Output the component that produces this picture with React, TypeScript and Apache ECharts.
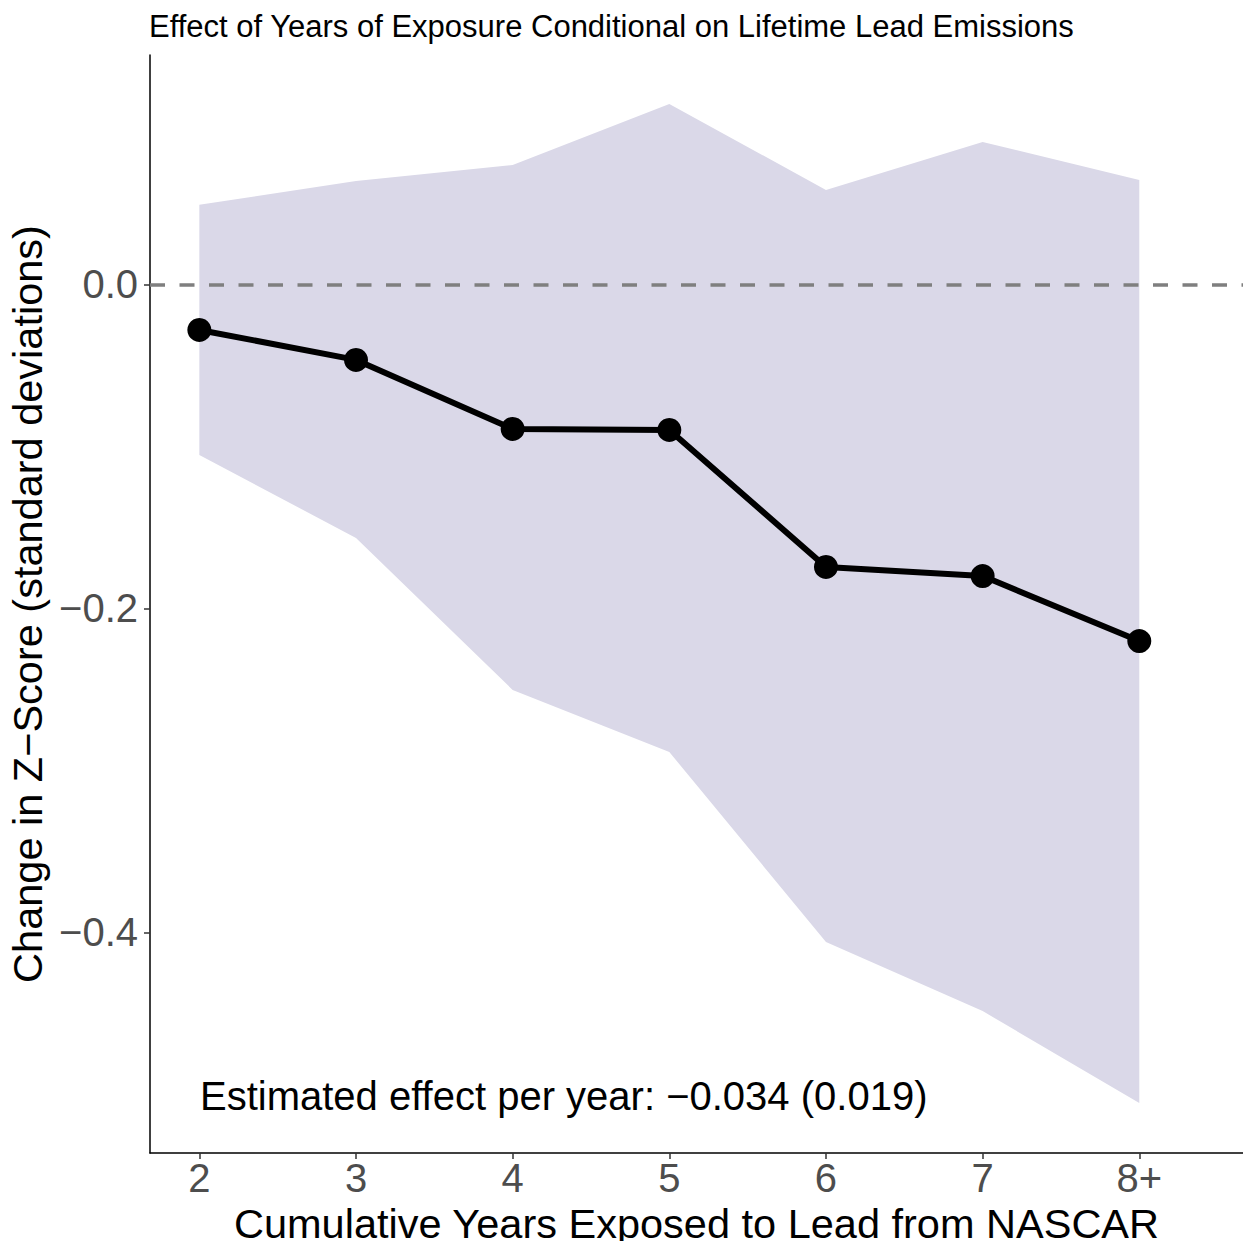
import { useEffect, useRef } from "react"
import * as echarts from "echarts"

const years = [2, 3, 4, 5, 6, 7, 8]
const yearLabels = ["2", "3", "4", "5", "6", "7", "8+"]
const estimates = [-0.0282, -0.0467, -0.0893, -0.0899, -0.1745, -0.1801, -0.2202]
const upperCI = [0.049, 0.0638, 0.0736, 0.1113, 0.0582, 0.0878, 0.0644]
const lowerCI = [-0.1054, -0.1566, -0.2504, -0.2887, -0.406, -0.4486, -0.5053]
const yTicks = [-0.4, -0.2, 0]

const FONT = "Liberation Sans, Arial, Helvetica, sans-serif"

export default function App() {
  const chartRef = useRef<HTMLDivElement>(null)

  useEffect(() => {
    if (!chartRef.current) return
    const chart = echarts.init(chartRef.current, null, { renderer: "svg" })

    const option = {
      animation: false,
      backgroundColor: "#ffffff",
      textStyle: { fontFamily: FONT },
      title: {
        text: "Effect of Years of Exposure Conditional on Lifetime Lead Emissions",
        left: 149,
        top: 11,
        padding: 0,
        textStyle: { fontFamily: FONT, fontSize: 31, fontWeight: "normal", color: "#000" }
      },
      grid: { left: 150, right: 0, top: 55, bottom: 88, outerBoundsMode: "none", containLabel: false },
      xAxis: {
        type: "value",
        min: 1.685,
        max: 8.662,
        name: "Cumulative Years Exposed to Lead from NASCAR",
        nameLocation: "middle",
        nameGap: 43,
        nameTextStyle: { fontFamily: FONT, fontSize: 41.5, color: "#000" },
        axisLine: { onZero: false, lineStyle: { color: "#000", width: 1.5 } },
        axisTick: { customValues: years, length: 6, lineStyle: { color: "#333", width: 1.5 } },
        axisLabel: {
          customValues: years,
          margin: 5,
          fontFamily: FONT,
          fontSize: 40,
          color: "#4d4d4d",
          formatter: (v: number) => yearLabels[years.indexOf(Math.round(v))] ?? ""
        },
        splitLine: { show: false }
      },
      yAxis: {
        type: "value",
        min: -0.5362,
        max: 0.1415,
        name: "Change in Z\u2212Score (standard deviations)",
        nameLocation: "middle",
        nameGap: 100,
        nameRotate: 90,
        nameTextStyle: { fontFamily: FONT, fontSize: 41.5, color: "#000" },
        axisLine: { lineStyle: { color: "#000", width: 1.5 } },
        axisTick: { customValues: yTicks, length: 6, lineStyle: { color: "#333", width: 1.5 } },
        axisLabel: {
          customValues: yTicks,
          margin: 12,
          fontFamily: FONT,
          fontSize: 40,
          color: "#4d4d4d",
          formatter: (v: number) => (v < 0 ? "\u2212" : "") + Math.abs(v).toFixed(1)
        },
        splitLine: { show: false }
      },
      graphic: [
        {
          type: "text",
          left: 200,
          top: 1076,
          style: {
            text: "Estimated effect per year: \u22120.034 (0.019)",
            fontFamily: FONT,
            fontSize: 40,
            fill: "#000"
          }
        }
      ],
      series: [
        {
          type: "custom",
          silent: true,
          z: 1,
          data: years.map((x, i) => [x, upperCI[i], lowerCI[i]]),
          renderItem: (params: any, api: any) => {
            if (params.dataIndex !== 0) return null
            const top = years.map((x, i) => api.coord([x, upperCI[i]]))
            const bottom = years.map((x, i) => api.coord([x, lowerCI[i]])).reverse()
            return {
              type: "polygon",
              shape: { points: top.concat(bottom) },
              style: { fill: "#dad8e8" }
            }
          }
        },
        {
          type: "line",
          z: 3,
          data: years.map((x, i) => [x, estimates[i]]),
          symbol: "circle",
          symbolSize: 24,
          itemStyle: { color: "#000" },
          lineStyle: { color: "#000", width: 6 },
          markLine: {
            silent: true,
            symbol: ["none", "none"],
            label: { show: false },
            lineStyle: { color: "#7f7f7f", width: 3.5, type: [15, 14.5] },
            data: [{ yAxis: 0 }],
            z: 2
          }
        }
      ]
    }

    chart.setOption(option)
    return () => {
      chart.dispose()
    }
  }, [])

  return (
    <div
      ref={chartRef}
      style={{ position: "absolute", left: 0, top: 0, width: 1243, height: 1241 }}
    />
  )
}
